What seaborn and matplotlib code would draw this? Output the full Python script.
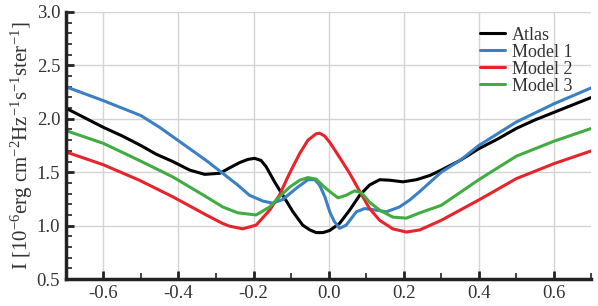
import numpy as np
import pandas as pd
import matplotlib
matplotlib.use("Agg")
import matplotlib.pyplot as plt
import seaborn as sns
from matplotlib.ticker import MultipleLocator

# values
atlas_x = [-0.7, -0.65, -0.6, -0.55, -0.5, -0.46, -0.415, -0.37, -0.33, -0.29, -0.264,
           -0.237, -0.215, -0.197, -0.18, -0.166, -0.144, -0.122, -0.095, -0.069, -0.05,
           -0.033, -0.015, 0.003, 0.029, 0.056, 0.083, 0.109, 0.136, 0.163, 0.198, 0.234,
           0.27, 0.3, 0.35, 0.4, 0.45, 0.5, 0.55, 0.6, 0.65, 0.7]
atlas_y = [2.10, 2.01, 1.92, 1.84, 1.75, 1.67, 1.60, 1.52, 1.48, 1.49, 1.54,
           1.59, 1.62, 1.63, 1.61, 1.55, 1.41, 1.285, 1.13, 1.005, 0.96,
           0.935, 0.935, 0.955, 1.02, 1.145, 1.285, 1.38, 1.43, 1.425, 1.41, 1.43,
           1.47, 1.52, 1.61, 1.72, 1.81, 1.91, 1.99, 2.06, 2.13, 2.20]

model1_x = [-0.7, -0.6, -0.5, -0.45, -0.402, -0.326, -0.282, -0.242, -0.211, -0.175,
            -0.149, -0.122, -0.086, -0.055, -0.037, -0.024, -0.01, 0.003, 0.015, 0.029,
            0.047, 0.074, 0.096, 0.118, 0.154, 0.189, 0.216, 0.243, 0.3, 0.35, 0.4,
            0.5, 0.6, 0.7]
model1_y = [2.30, 2.17, 2.03, 1.92, 1.80, 1.61, 1.49, 1.38, 1.285, 1.23,
            1.21, 1.245, 1.35, 1.43, 1.43, 1.38, 1.27, 1.13, 1.04, 0.975,
            1.005, 1.13, 1.16, 1.15, 1.13, 1.175, 1.24, 1.32, 1.50, 1.61, 1.75,
            1.97, 2.14, 2.29]

model2_x = [-0.7, -0.6, -0.504, -0.415, -0.326, -0.282, -0.264, -0.242, -0.229, -0.193,
            -0.157, -0.131, -0.104, -0.077, -0.055, -0.033, -0.024, -0.011, 0.003, 0.029,
            0.056, 0.083, 0.109, 0.136, 0.171, 0.207, 0.243, 0.3, 0.4, 0.5, 0.6, 0.7]
model2_y = [1.69, 1.57, 1.425, 1.27, 1.10, 1.02, 0.995, 0.98, 0.97, 1.005,
            1.145, 1.285, 1.49, 1.675, 1.80, 1.86, 1.865, 1.84, 1.78, 1.64,
            1.49, 1.32, 1.16, 1.05, 0.97, 0.94, 0.96, 1.05, 1.24, 1.44, 1.58, 1.70]

model3_x = [-0.7, -0.6, -0.504, -0.415, -0.326, -0.282, -0.242, -0.193, -0.157, -0.131,
            -0.104, -0.077, -0.055, -0.033, -0.011, 0.003, 0.025, 0.047, 0.069, 0.087,
            0.109, 0.136, 0.171, 0.207, 0.243, 0.3, 0.4, 0.5, 0.6, 0.7]
model3_y = [1.89, 1.77, 1.61, 1.456, 1.27, 1.175, 1.12, 1.10, 1.175, 1.27,
            1.36, 1.425, 1.45, 1.435, 1.36, 1.32, 1.26, 1.285, 1.325, 1.31,
            1.22, 1.145, 1.08, 1.07, 1.12, 1.19, 1.43, 1.65, 1.79, 1.91]

series_names = ["Atlas", "Model 1", "Model 2", "Model 3"]
series_colors = ["#000000", "#3b80c4", "#e8232a", "#41ac41"]

frames = []
for name, xs, ys in zip(series_names,
                        [atlas_x, model1_x, model2_x, model3_x],
                        [atlas_y, model1_y, model2_y, model3_y]):
    frames.append(pd.DataFrame({"x": xs, "I": ys, "series": name}))
df = pd.concat(frames, ignore_index=True)

sns.set_style("whitegrid")
plt.rcParams["font.family"] = ["Liberation Serif", "DejaVu Serif"]
plt.rcParams["mathtext.fontset"] = "custom"
plt.rcParams["mathtext.rm"] = "Liberation Serif"
plt.rcParams["mathtext.it"] = "Liberation Serif:italic"

fig = plt.figure(figsize=(5.98, 3.06), dpi=100)
ax = fig.add_axes([0.110, 0.088, 0.879, 0.873])

sns.lineplot(data=df, x="x", y="I", hue="series", palette=series_colors,
             hue_order=series_names, sort=False, estimator=None,
             linewidth=2.2, ax=ax)

ax.set_xlim(-0.7, 0.7)
ax.set_ylim(0.5, 3.0)
ax.xaxis.set_minor_locator(MultipleLocator(0.1))
ax.yaxis.set_major_locator(MultipleLocator(0.5))
ax.yaxis.set_minor_locator(MultipleLocator(0.1))
ax.set_xticks(np.arange(-0.6, 0.61, 0.2))
ax.set_xticklabels(["-0.6", "-0.4", "-0.2", "0.0", "0.2", "0.4", "0.6"])

ax.grid(True, which="major", color="#d4d4d4", linewidth=1.0)
ax.grid(False, which="minor")
for side in ["top", "right"]:
    ax.spines[side].set_visible(False)
for side in ["left", "bottom"]:
    ax.spines[side].set_color("#222222")
    ax.spines[side].set_linewidth(2.5)

ax.tick_params(which="major", direction="in", length=6, width=2.0, color="#222222",
               labelsize=13.5, labelcolor="#333333", pad=4,
               bottom=True, left=True)
ax.tick_params(which="minor", direction="in", length=4, width=1.2, color="#222222",
               bottom=True, left=True)

ax.set_xlabel("")
ax.set_ylabel(r"I [10$^{-6}$erg cm$^{-2}$Hz$^{-1}$s$^{-1}$ster$^{-1}$]",
              fontsize=15, color="#333333", labelpad=1)

leg = ax.legend(loc="upper right", bbox_to_anchor=(0.985, 0.985), frameon=False,
                fontsize=13, handlelength=1.4, handletextpad=0.4,
                labelspacing=0.0, borderaxespad=0.2)
for line in leg.get_lines():
    line.set_linewidth(2.2)
for t in leg.get_texts():
    t.set_color("#333333")

fig.savefig("out.png", dpi=100)
